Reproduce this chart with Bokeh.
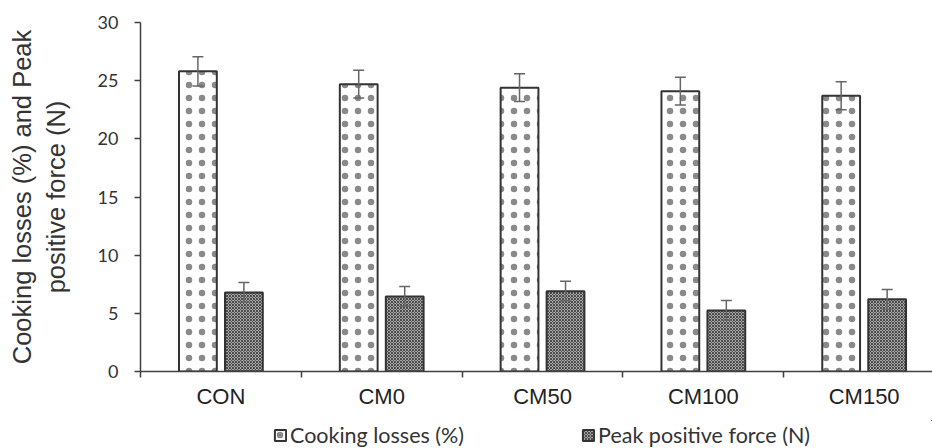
from bokeh.plotting import figure
from bokeh.layouts import column
from bokeh.models import (Range1d, FixedTicker, ColumnDataSource, Whisker, Legend,
                          LegendItem, TeeHead)
from bokeh.transform import dodge
from bokeh.embed import file_html
from bokeh.resources import INLINE

# ---- data ----
categories = ["CON", "CM0", "CM50", "CM100", "CM150"]
cooking_losses = [25.8, 24.7, 24.4, 24.1, 23.7]
cooking_err = [1.25, 1.2, 1.2, 1.2, 1.2]
peak_force = [6.8, 6.45, 6.9, 5.25, 6.2]
peak_err = [0.85, 0.85, 0.85, 0.85, 0.85]
y_ticks = [0, 5, 10, 15, 20, 25, 30]
series_labels = ["Cooking losses (%)", "Peak positive force (N)"]
y_title = "Cooking losses (%) and Peak\npositive force (N)"

xpos = [i + 0.5 for i in range(len(categories))]
bounds = [i for i in range(len(categories) + 1)]

src = ColumnDataSource(dict(
    x=xpos,
    cook=cooking_losses,
    cook_up=[v + e for v, e in zip(cooking_losses, cooking_err)],
    cook_lo=[v - e for v, e in zip(cooking_losses, cooking_err)],
    peak=peak_force,
    peak_up=[v + e for v, e in zip(peak_force, peak_err)],
    peak_lo=[v - e for v, e in zip(peak_force, peak_err)],
))

COOK_STYLE = dict(fill_color="white", line_color="#333333", line_width=2,
                  hatch_pattern="dot", hatch_scale=13, hatch_color="#8a8a8a", hatch_weight=0.5)
PEAK_STYLE = dict(fill_color="#d6d6d6", line_color="#333333", line_width=2,
                  hatch_pattern="diagonal_cross", hatch_scale=3, hatch_color="#484848",
                  hatch_weight=1.2)

p = figure(width=932, height=420, x_range=Range1d(0, 4.925), y_range=Range1d(0, 30),
           output_backend="svg", toolbar_location=None,
           min_border_left=140, min_border_right=0, min_border_top=22, min_border_bottom=49)
p.outline_line_color = None
p.xgrid.grid_line_color = None
p.ygrid.grid_line_color = None
p.background_fill_color = "white"
p.border_fill_color = "white"

OFF = 0.143
W = 0.235
r1 = p.vbar(x=dodge("x", -OFF, range=p.x_range), top="cook", width=W, source=src, **COOK_STYLE)
r2 = p.vbar(x=dodge("x", OFF, range=p.x_range), top="peak", width=W, source=src, **PEAK_STYLE)

for base, up, lo in [(dodge("x", -OFF, range=p.x_range), "cook_up", "cook_lo"),
                     (dodge("x", OFF, range=p.x_range), "peak_up", "peak_lo")]:
    w = Whisker(base=base, upper=up, lower=lo, source=src,
                line_color="#666666", line_width=1.5,
                upper_head=TeeHead(size=11, line_color="#666666", line_width=1.5),
                lower_head=TeeHead(size=11, line_color="#666666", line_width=1.5))
    w.level = "overlay"
    p.add_layout(w)

xa = p.xaxis[0]
xa.ticker = FixedTicker(ticks=xpos, minor_ticks=bounds)
xa.major_label_overrides = {x: c for x, c in zip(xpos, categories)}
xa.major_tick_in = 0
xa.major_tick_out = 0
xa.minor_tick_in = 0
xa.minor_tick_out = 6
xa.minor_tick_line_color = "#404040"
xa.minor_tick_line_width = 1.5
xa.axis_line_color = "#404040"
xa.axis_line_width = 1.5
xa.major_label_text_font = "Liberation Sans"
xa.major_label_text_font_size = "22px"
xa.major_label_text_color = "#222222"
xa.major_label_standoff = 6

ya = p.yaxis[0]
ya.ticker = FixedTicker(ticks=y_ticks)
ya.major_tick_in = 0
ya.major_tick_out = 6
ya.major_tick_line_color = "#404040"
ya.major_tick_line_width = 1.5
ya.axis_line_color = "#404040"
ya.axis_line_width = 1.5
ya.major_label_text_font = "Lato"
ya.major_label_text_font_size = "18px"
ya.major_label_text_color = "#333333"
ya.major_label_standoff = 16
ya.axis_label = y_title
ya.axis_label_text_font = "Liberation Sans"
ya.axis_label_text_font_size = "25.5px"
ya.axis_label_text_font_style = "normal"
ya.axis_label_text_color = "#333333"
ya.axis_label_standoff = 25

# ---- legend strip below the chart (its frame is aligned with the chart's frame) ----
lg = figure(width=932, height=28, x_range=Range1d(-101, -100), y_range=Range1d(-101, -100),
            x_axis_type=None, y_axis_type=None, output_backend="svg", toolbar_location=None,
            min_border_left=0, min_border_right=0, min_border_top=0, min_border_bottom=0)
lg.outline_line_color = None
lg.background_fill_color = "white"
lg.border_fill_color = "white"
lr1 = lg.vbar(x="x", top="cook", width=W, source=src, **COOK_STYLE)
lr2 = lg.vbar(x="x", top="peak", width=W, source=src, **PEAK_STYLE)

legend = Legend(items=[LegendItem(label=series_labels[0], renderers=[lr1]),
                       LegendItem(label=series_labels[1], renderers=[lr2])],
                orientation="horizontal", location=(133, 0),
                label_text_font="Lato", label_text_font_size="21.5px",
                label_text_color="#333333", label_height=22,
                glyph_width=14, glyph_height=14, label_standoff=3, spacing=117,
                padding=0, margin=0, border_line_color=None, background_fill_alpha=0)
lg.add_layout(legend)

open("out.html", "w").write(file_html(column(p, lg, spacing=0), INLINE))
